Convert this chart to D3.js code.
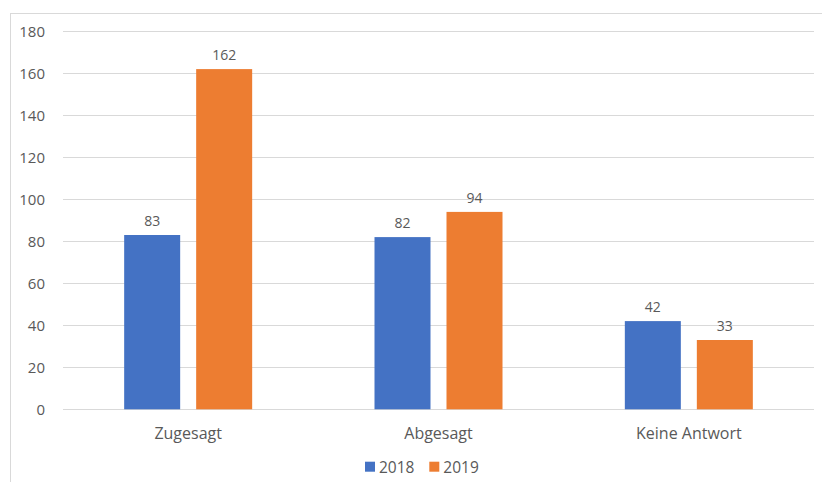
<!DOCTYPE html>
<html><head><meta charset="utf-8">
<script src="https://cdn.jsdelivr.net/npm/d3@7"></script>
<style>body{margin:0;background:#fff}text{font-family:"Open Sans",sans-serif;fill:#595959}</style>
</head><body>
<svg id="c" width="822" height="482"></svg>
<script>
const categories = ["Zugesagt", "Abgesagt", "Keine Antwort"];
const seriesNames = ["2018", "2019"];
const values2018 = [83, 82, 42];
const values2019 = [162, 94, 33];
const yTicks = [0, 20, 40, 60, 80, 100, 120, 140, 160, 180];
const colors = ["#4472C4", "#ED7D31"];

const svg = d3.select("#c");
svg.append("rect").attr("x", 10.5).attr("y", 13.5).attr("width", 830).attr("height", 500)
  .attr("fill", "none").attr("stroke", "#d9d9d9").attr("stroke-width", 1);

const pLeft = 63, pRight = 814, pTop = 31.3, pBottom = 409.3;
const y = d3.scaleLinear().domain([0, 180]).range([pBottom, pTop]);
const x0 = d3.scaleBand().domain(categories).range([pLeft, pRight]).padding(0);
const groupW = 128;
const x1 = d3.scaleBand().domain(seriesNames)
  .range([(x0.bandwidth() - groupW) / 2, (x0.bandwidth() + groupW) / 2])
  .paddingInner(0.2222).paddingOuter(0);

svg.append("g").selectAll("line").data(yTicks).join("line")
  .attr("x1", pLeft).attr("x2", pRight)
  .attr("y1", d => Math.round(y(d)) + 0.5).attr("y2", d => Math.round(y(d)) + 0.5)
  .attr("stroke", "#d9d9d9").attr("stroke-width", 1);

const yAxis = d3.axisLeft(y).tickValues(yTicks).tickSize(0).tickPadding(18);
const gy = svg.append("g").attr("transform", `translate(${pLeft},0)`).call(yAxis);
gy.select(".domain").remove();
gy.selectAll("text").style("font-size", "15px").style("font-family", "'Open Sans',sans-serif").attr("fill", "#595959");

const data = categories.map((c, i) => ({ cat: c, vals: [values2018[i], values2019[i]] }));

const groups = svg.append("g").selectAll("g").data(data).join("g")
  .attr("transform", d => `translate(${x0(d.cat)},0)`);

groups.selectAll("rect").data(d => d.vals.map((v, j) => ({ s: seriesNames[j], v, j })))
  .join("rect")
  .attr("x", d => x1(d.s)).attr("width", x1.bandwidth())
  .attr("y", d => y(d.v)).attr("height", d => y(0) - y(d.v))
  .attr("fill", d => colors[d.j]);

groups.selectAll("text.lbl").data(d => d.vals.map((v, j) => ({ s: seriesNames[j], v, j })))
  .join("text").attr("class", "lbl")
  .attr("x", d => x1(d.s) + x1.bandwidth() / 2).attr("y", d => y(d.v) - 9)
  .attr("text-anchor", "middle").style("font-size", "14px").text(d => d.v);

const xAxis = d3.axisBottom(x0).tickSize(0).tickPadding(0);
const gx = svg.append("g").attr("transform", `translate(0,${pBottom})`).call(xAxis);
gx.select(".domain").remove();
gx.selectAll("text").attr("dy", null).attr("y", 30).style("font-size", "16px")
  .style("font-family", "'Open Sans',sans-serif").attr("fill", "#595959");

const legX = [365, 429.3];
const leg = svg.append("g").selectAll("g").data(seriesNames).join("g")
  .attr("transform", (d, i) => `translate(${legX[i]},461.7)`);
leg.append("rect").attr("width", 10).attr("height", 10).attr("fill", (d, i) => colors[i]);
leg.append("text").attr("x", 14).attr("y", 11).style("font-size", "15.5px").text(d => d);
</script>
</body></html>
